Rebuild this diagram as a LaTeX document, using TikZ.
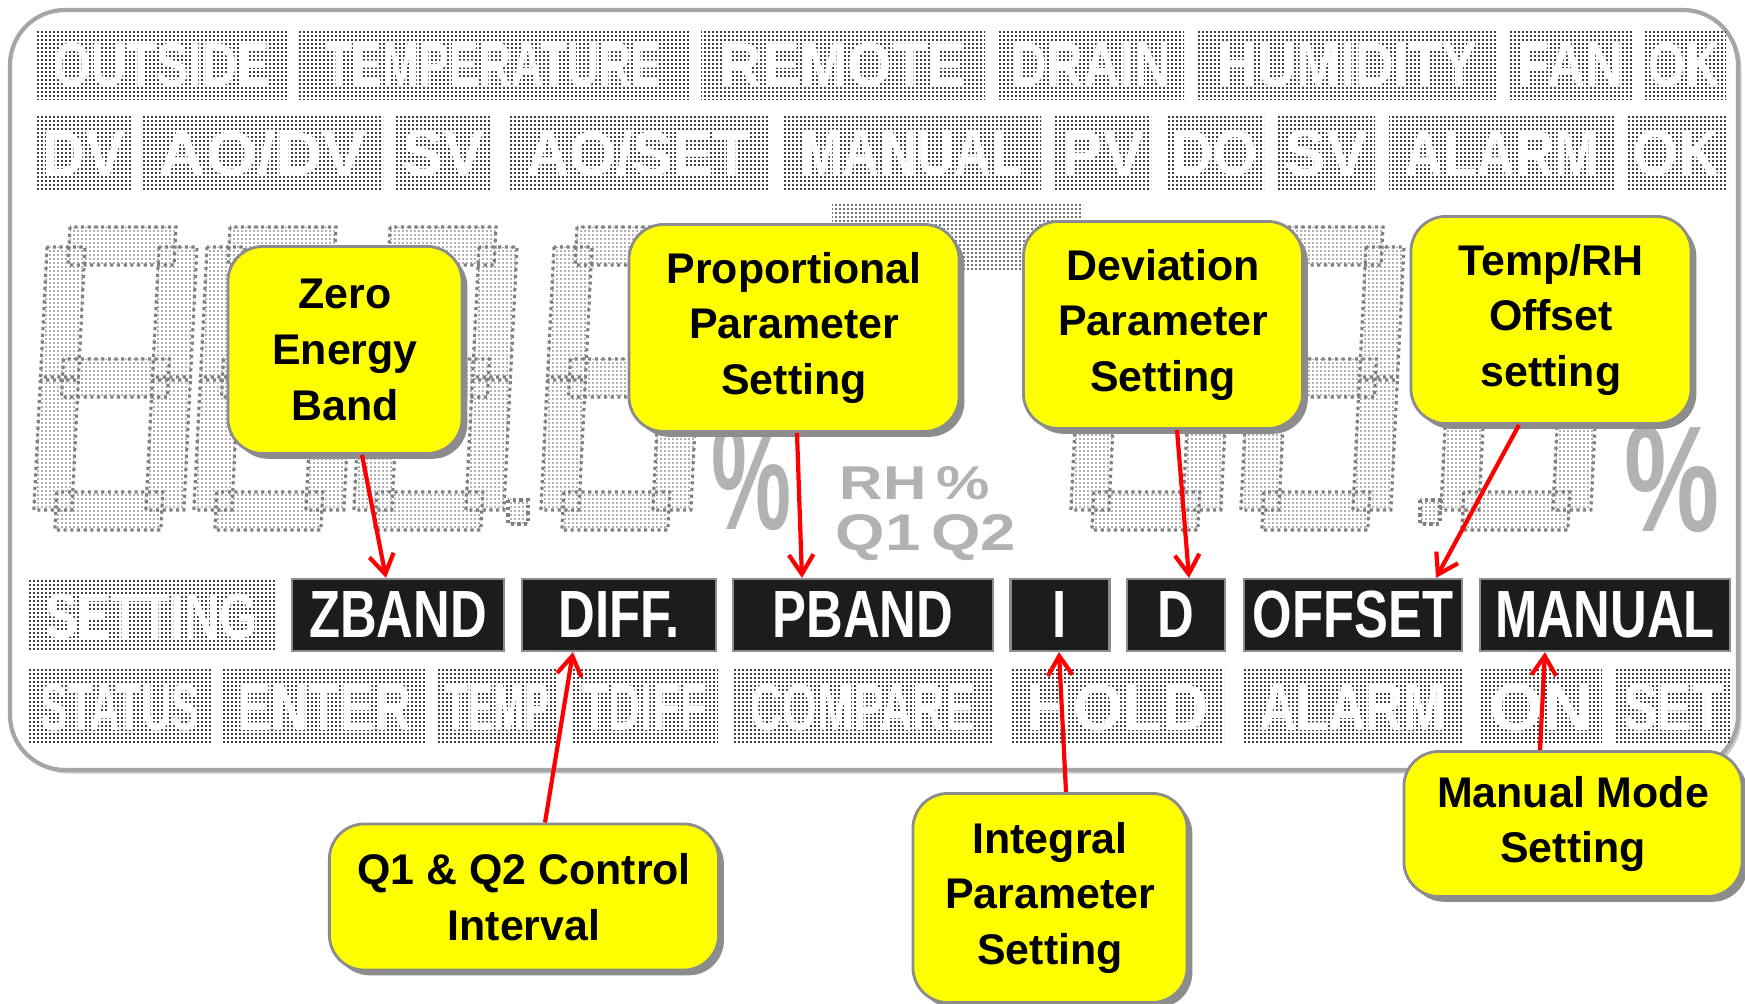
\documentclass[tikz,border=0pt]{standalone}
\usepackage{fontspec}
\usepackage{graphicx}
\setmainfont{Liberation Sans}
\setsansfont{Liberation Sans}
\usetikzlibrary{patterns,shadows,arrows.meta}
\definecolor{callfill}{HTML}{FFFF00}
\definecolor{callrim}{HTML}{8C8C8C}
\definecolor{lcdblack}{HTML}{1C1C1C}
\definecolor{arrowred}{HTML}{FF0000}

% dense dot grid of the unlit LCD segments
\pgfdeclarepatternformonly{lcddots}{\pgfqpoint{0pt}{0pt}}{\pgfqpoint{1.2pt}{1.2pt}}{\pgfqpoint{1.2pt}{1.2pt}}{%
  \pgfpathrectangle{\pgfqpoint{0pt}{0pt}}{\pgfqpoint{0.65pt}{0.65pt}}\pgfusepath{fill}}

\newcommand\lcdtxt[1]{\scalebox{0.76}[1]{#1}}

% name, x1, y1, x2, y2, text
\newcommand\lcdword[6]{%
  \fill[lcdpat] (#2,#3) rectangle (#4,#5);
  \pgfmathsetlengthmacro\lcdw{0.2845*0.86*(#4-#2)}%
  \pgfmathsetlengthmacro\lcdh{0.2845*0.62*(#5-#3)}%
  \node[lcdtext] (#1) at ({(#2+#4)/2},{(#3+#5)/2}) {\resizebox{\lcdw}{\lcdh}{#6}};}

% seven segment digit, left x, top y
\newcommand\segdigit[2]{%
  \begin{scope}[shift={(#1,#2)}, xslant=0.05]
    \path[digitpat] (22,0) rectangle (128,38) (22,132) rectangle (128,170)
      (22,265) rectangle (128,303) (0,20) rectangle (38,150) (112,20) rectangle (150,150)
      (0,153) rectangle (38,283) (112,153) rectangle (150,283);
  \end{scope}}

\begin{document}
\begin{tikzpicture}[x=0.01cm, y=-0.01cm,
    lcdpat/.style={pattern=lcddots, pattern color=black!75},
    digitpat/.style={pattern=lcddots, pattern color=black!30, draw=black!50, densely dotted, line width=0.9pt},
    lcdtext/.style={inner sep=0pt, text=white, font=\bfseries},
    dimtext/.style={inner sep=0pt, text=black!30, font=\bfseries},
    lcdlabel/.style={fill=lcdblack, draw=black!45, line width=0.6pt, text=white,
      minimum height=7.2mm, inner sep=0pt, font=\fontsize{19}{19}\selectfont\bfseries},
    callout/.style={draw=callrim, line width=0.8pt, fill=callfill, rounded corners=3.5mm,
      drop shadow={shadow xshift=1.5pt, shadow yshift=-1.5pt, fill=black!45, opacity=1},
      align=center, inner sep=0pt, font=\fontsize{12.2}{15.9}\selectfont\bfseries},
    redarrow/.style={draw=arrowred, line width=1.2pt, -{Straight Barb[length=5.5pt,width=7pt]}}
  ]
  \useasboundingbox (0,0) rectangle (1745,1004);

  % panel
  \draw[draw=black!35, line width=1.2pt, fill=white, rounded corners=5.5mm,
    drop shadow={shadow xshift=1pt, shadow yshift=-1pt, fill=black!20, opacity=1}]
    (10,10) rectangle (1738,770);

  % top rows
  \lcdword{outside}{36}{30}{287}{100}{OUTSIDE}
  \lcdword{temperature}{298}{30}{689}{100}{TEMPERATURE}
  \lcdword{remote}{701}{30}{985}{100}{REMOTE}
  \lcdword{drain}{997}{30}{1184}{100}{DRAIN}
  \lcdword{humidity}{1198}{30}{1498}{100}{HUMIDITY}
  \lcdword{fan}{1509}{30}{1632}{100}{FAN}
  \lcdword{okone}{1643}{30}{1726}{100}{OK}

  \lcdword{dv}{36}{117}{132}{190}{DV}
  \lcdword{aodv}{142}{117}{383}{190}{AO/DV}
  \lcdword{svone}{396}{117}{491}{190}{SV}
  \lcdword{aoset}{508}{117}{768}{190}{AO/SET}
  \lcdword{manualtop}{782}{117}{1041}{190}{MANUAL}
  \lcdword{pv}{1055}{117}{1151}{190}{PV}
  \lcdword{do}{1166}{117}{1264}{190}{DO}
  \lcdword{svtwo}{1278}{117}{1375}{190}{SV}
  \lcdword{alarm}{1389}{117}{1615}{190}{ALARM}
  \lcdword{oktwo}{1627}{117}{1726}{190}{OK}

  % big digits
  \fill[pattern=lcddots, pattern color=black!55] (832,203) rectangle (1083,270);
  \segdigit{48}{227}
  \segdigit{208}{227}
  \segdigit{368}{227}
  \path[digitpat] (508,500) rectangle (528,524);
  \segdigit{555}{227}
  \node[dimtext] (pctleft) at (752,478) {\resizebox{8mm}{10.5mm}{\%}};
  \node[dimtext] (rhmark) at (915,483) {\resizebox{15mm}{3.3mm}{RH\,\%}};
  \node[dimtext] (qmark) at (926,538) {\resizebox{18mm}{3.6mm}{Q1\,Q2}};
  \segdigit{1085}{227}
  \segdigit{1255}{227}
  \path[digitpat] (1420,500) rectangle (1440,524);
  \segdigit{1455}{227}
  \node[dimtext] (pctright) at (1672,480) {\resizebox{9.5mm}{10.5mm}{\%}};

  % setting row
  \lcdword{setting}{28}{580}{275}{652}{SETTING}
  \node[lcdlabel, minimum width=21.2mm] (zband) at (398,615) {\lcdtxt{ZBAND}};
  \node[lcdlabel, minimum width=19.4mm] (diff) at (619,615) {\lcdtxt{DIFF.}};
  \node[lcdlabel, minimum width=26mm] (pband) at (863,615) {\lcdtxt{PBAND}};
  \node[lcdlabel, minimum width=9.9mm] (ilab) at (1060,615) {\lcdtxt{I}};
  \node[lcdlabel, minimum width=9.8mm] (dlab) at (1176,615) {\lcdtxt{D}};
  \node[lcdlabel, minimum width=21.8mm] (offset) at (1353,615) {\lcdtxt{OFFSET}};
  \node[lcdlabel, minimum width=25mm] (manual) at (1605,615) {\lcdtxt{MANUAL}};

  % bottom row
  \lcdword{status}{28}{670}{212}{745}{STATUS}
  \lcdword{enter}{223}{670}{426}{745}{ENTER}
  \lcdword{temp}{437}{670}{558}{745}{TEMP}
  \lcdword{tdiff}{571}{670}{718}{745}{TDIFF}
  \lcdword{compare}{732}{670}{993}{745}{COMPARE}
  \lcdword{hold}{1012}{670}{1224}{745}{HOLD}
  \lcdword{alarmlow}{1244}{670}{1462}{745}{ALARM}
  \lcdword{on}{1481}{670}{1602}{745}{ON}
  \lcdword{set}{1615}{670}{1732}{745}{SET}

  % callouts
  \node[callout, minimum width=23.4mm, minimum height=20.7mm] (zero) at (345,350) {Zero\\Energy\\Band};
  \node[callout, minimum width=33mm, minimum height=20.7mm] (prop) at (794,328) {Proportional\\Parameter\\Setting};
  \node[callout, minimum width=27.9mm, minimum height=20.7mm] (dev) at (1163,325) {Deviation\\Parameter\\Setting};
  \node[callout, minimum width=28mm, minimum height=20.7mm] (temprh) at (1551,320) {Temp/RH\\Offset\\setting};
  \node[callout, minimum width=38.9mm, minimum height=14.6mm] (qint) at (524,897) {Q1 \& Q2 Control\\Interval};
  \node[callout, minimum width=27.4mm, minimum height=20.9mm] (integ) at (1050,898) {Integral\\Parameter\\Setting};
  \node[callout, minimum width=33.8mm, minimum height=14.5mm] (manmode) at (1573,824) {Manual Mode\\Setting};

  % arrows
  \draw[redarrow] ([xshift=1.7mm]zero.south) -- ([xshift=-1.2mm]zband.north);
  \draw[redarrow] ([xshift=0.3mm]prop.south) -- ([xshift=-6.1mm]pband.north);
  \draw[redarrow] ([xshift=1.4mm]dev.south) -- ([xshift=1.3mm]dlab.north);
  \draw[redarrow] ([xshift=-3.2mm]temprh.south) -- ([xshift=8.3mm]offset.north);
  \draw[redarrow] ([xshift=2.1mm]qint.north) -- ([xshift=-4.6mm]diff.south);
  \draw[redarrow] ([xshift=1.6mm]integ.north) -- ([xshift=-0.1mm]ilab.south);
  \draw[redarrow] ([xshift=-3.3mm]manmode.north) -- ([xshift=-6mm]manual.south);
\end{tikzpicture}
\end{document}
